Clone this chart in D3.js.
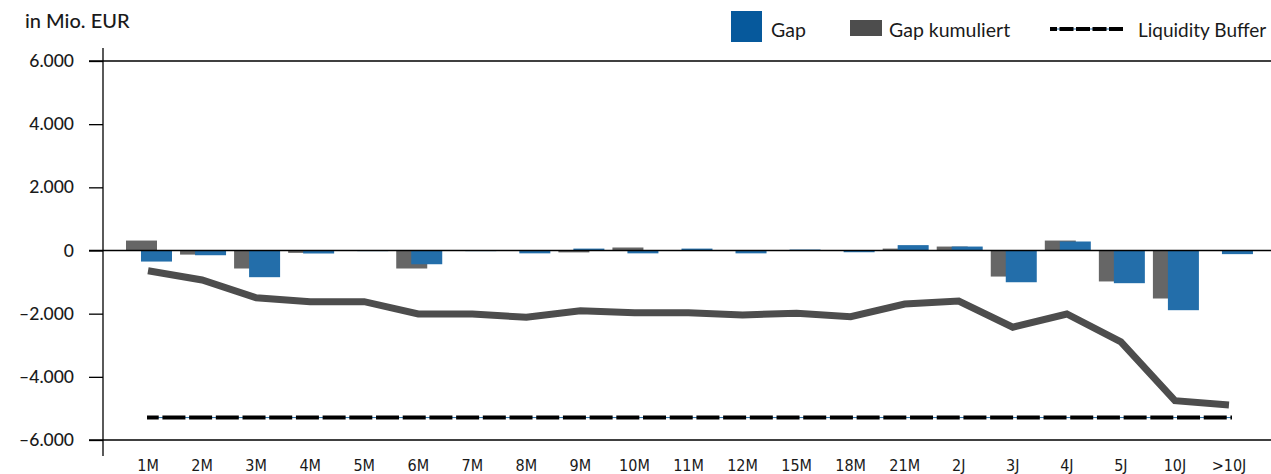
<!DOCTYPE html>
<html>
<head>
<meta charset="utf-8">
<script src="https://cdn.jsdelivr.net/npm/d3@7"></script>
<style>
  html, body { margin: 0; padding: 0; background: #fff; }
  svg { display: block; }
  text { font-family: Lato, "Open Sans", sans-serif; fill: #1a1a1a; }
</style>
</head>
<body>
<svg id="chart" width="1271" height="474"></svg>
<script>
const categories = ["1M","2M","3M","4M","5M","6M","7M","8M","9M","10M","11M","12M","15M","18M","21M","2J","3J","4J","5J","10J",">10J"];
const gapValues = [-350, -150, -845, -95, -20, -435, -20, -90, 60, -90, 60, -90, 30, -55, 170, 125, -1005, 285, -1035, -1890, -115];
const gapKumBars = [315, -130, -570, -75, 15, -570, 15, 15, -60, 95, 15, 15, 15, 15, 60, 125, -825, 315, -980, -1520, 15];
const gapKumLine = [-640, -935, -1495, -1620, -1620, -2010, -2010, -2115, -1905, -1970, -1970, -2040, -1990, -2095, -1695, -1600, -2430, -2010, -2890, -4755, -4890];
const liquidityBuffer = -5290;
const yTicks = [-6000, -4000, -2000, 0, 2000, 4000, 6000];
const legendLabels = ["Gap", "Gap kumuliert", "Liquidity Buffer"];
const unitLabel = "in Mio. EUR";

const svg = d3.select("#chart");
const x = d3.scaleBand().domain(categories).range([121, 1256]).padding(0);
const y = d3.scaleLinear().domain([-6000, 6000]).range([440, 61]);
const cx = c => x(c) + x.bandwidth() / 2;

const blue = "#236eaa", grey = "#666666", lineCol = "#4d4d4d";

// grey bars (Gap kumuliert)
svg.append("g").selectAll("rect").data(categories).join("rect")
  .attr("x", c => x(c) + 5)
  .attr("width", 31)
  .attr("y", (c, i) => y(Math.max(0, gapKumBars[i])))
  .attr("height", (c, i) => Math.abs(y(gapKumBars[i]) - y(0)))
  .attr("fill", grey);

// blue bars (Gap)
svg.append("g").selectAll("rect").data(categories).join("rect")
  .attr("x", c => x(c) + 20)
  .attr("width", 31)
  .attr("y", (c, i) => y(Math.max(0, gapValues[i])))
  .attr("height", (c, i) => Math.abs(y(gapValues[i]) - y(0)))
  .attr("fill", blue);

// y axis
const fmt = v => (v < 0 ? "–" : "") + d3.format(",")(Math.abs(v)).replace(/,/g, ".");
const yAxis = svg.append("g").attr("transform", "translate(103,0)")
  .call(d3.axisLeft(y).tickValues(yTicks).tickSize(14).tickPadding(15).tickFormat(fmt));
yAxis.select(".domain").remove();
yAxis.selectAll("line").attr("stroke", "#000").attr("stroke-width", 1.3);
yAxis.selectAll("text").style("font-size", "17.5px").style("font-family", "Lato, sans-serif")
  .style("font-weight", 500).attr("fill", "#111");

// vertical axis line
svg.append("line").attr("x1", 103).attr("x2", 103).attr("y1", 48).attr("y2", 456)
  .attr("stroke", "#000").attr("stroke-width", 1.3);

// full horizontal lines at top, zero, bottom
svg.append("g").selectAll("line").data([6000, 0, -6000]).join("line")
  .attr("x1", 89).attr("x2", 1271)
  .attr("y1", d => y(d)).attr("y2", d => y(d))
  .attr("stroke", "#000").attr("stroke-width", 1.3);

// cumulative line
svg.append("path").datum(gapKumLine)
  .attr("d", d3.line().x((d, i) => cx(categories[i])).y(d => y(d)))
  .attr("fill", "none").attr("stroke", lineCol).attr("stroke-width", 7);

// liquidity buffer
const bx1 = cx(categories[0]) - 1, bx2 = cx(categories[categories.length - 1]) + 3;
svg.append("line").attr("x1", bx1).attr("x2", bx2).attr("y1", y(liquidityBuffer)).attr("y2", y(liquidityBuffer))
  .attr("stroke", "#2a6fa8").attr("stroke-width", 1);
svg.append("line").attr("x1", bx1).attr("x2", bx2).attr("y1", y(liquidityBuffer)).attr("y2", y(liquidityBuffer))
  .attr("stroke", "#000").attr("stroke-width", 4)
  .attr("stroke-dasharray", "23,3.7").attr("stroke-dashoffset", 11.3);

// x axis labels
const xAxis = svg.append("g").attr("transform", "translate(0,456)")
  .call(d3.axisBottom(x).tickSize(0).tickPadding(0));
xAxis.select(".domain").remove();
xAxis.selectAll("text")
  .attr("dy", "0").attr("y", 15)
  .style("font-size", "16px").style("font-family", "'DejaVu Sans Condensed', 'DejaVu Sans', sans-serif")
  .attr("fill", "#111");

// unit label
svg.append("text").attr("x", 25).attr("y", 28).text(unitLabel)
  .style("font-size", "20px").style("font-weight", 500).attr("fill", "#111");

// legend
const lg = svg.append("g");
lg.append("rect").attr("x", 731).attr("y", 11).attr("width", 31).attr("height", 31).attr("fill", "#06599c");
lg.append("text").attr("x", 771).attr("y", 37).text(legendLabels[0]).style("font-size", "19.5px").attr("fill", "#333");
lg.append("rect").attr("x", 850).attr("y", 20).attr("width", 32).attr("height", 16).attr("fill", "#4d4d4d");
lg.append("text").attr("x", 889).attr("y", 37).text(legendLabels[1]).style("font-size", "19.5px").attr("fill", "#333");
lg.append("line").attr("x1", 1050).attr("x2", 1123).attr("y1", 29).attr("y2", 29).attr("stroke", "#2a6fa8").attr("stroke-width", 1);
lg.append("line").attr("x1", 1050).attr("x2", 1123).attr("y1", 29).attr("y2", 29).attr("stroke", "#000").attr("stroke-width", 4)
  .attr("stroke-dasharray", "14,2.5").attr("stroke-dashoffset", 7);
lg.append("text").attr("x", 1138).attr("y", 37).text(legendLabels[2]).style("font-size", "19px").attr("fill", "#333");
</script>
</body>
</html>
